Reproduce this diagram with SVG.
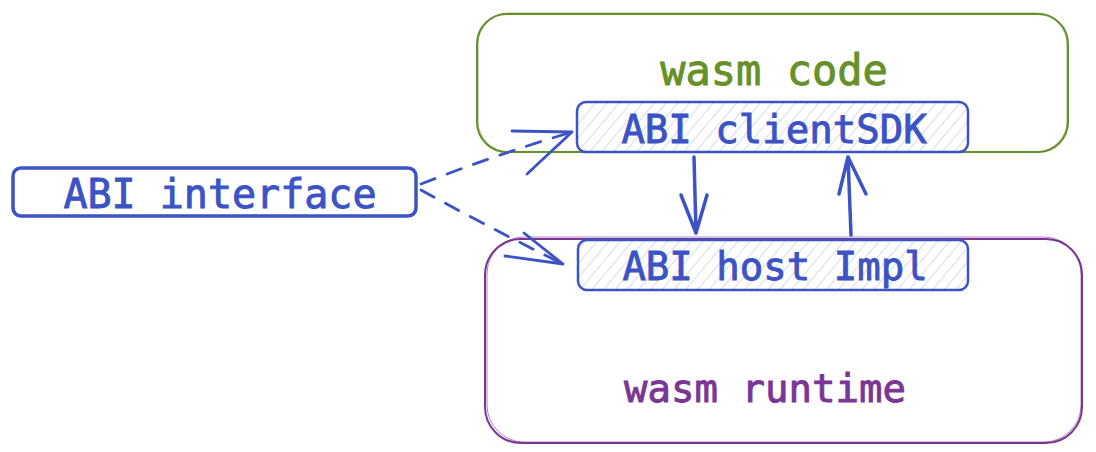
<svg xmlns="http://www.w3.org/2000/svg" width="1096" height="452" viewBox="0 0 1096 452">
  <defs>
    <pattern id="hatch" patternUnits="userSpaceOnUse" width="9" height="9" patternTransform="rotate(40)">
      <line x1="0" y1="0" x2="0" y2="9" stroke="#c4c9d0" stroke-width="1.3"/>
    </pattern>
    <style>
      .mono { font-family: "DejaVu Sans Mono", "Liberation Mono", monospace; text-anchor: middle; stroke-width: 0.9; }
      .blue { fill: #3b53c4; stroke: #3b53c4; }
      .bstroke { fill: none; stroke: #3b53c4; stroke-linecap: round; stroke-linejoin: round; }
      .green { fill: #66902a; stroke: #66902a; }
      .purple { fill: #7a3595; stroke: #7a3595; }
    </style>
  </defs>
  <rect width="1096" height="452" fill="#ffffff"/>

  <g id="wasm-code">
    <rect x="477" y="14" width="591" height="138" rx="30" fill="none" stroke="#66902a" stroke-width="2"/>
    <rect x="478" y="13" width="589" height="139" rx="31" fill="none" stroke="#66902a" stroke-width="1" opacity="0.6"/>
    <text class="mono green" x="774" y="85" font-size="42">wasm code</text>
  </g>

  <g id="wasm-runtime">
    <rect x="485" y="239" width="597" height="204" rx="36" fill="none" stroke="#7a3595" stroke-width="2"/>
    <rect x="487" y="237" width="594" height="205" rx="37" fill="none" stroke="#7a3595" stroke-width="1" opacity="0.6"/>
    <text class="mono purple" x="765" y="402" font-size="39">wasm runtime</text>
  </g>

  <g id="abi-clientsdk">
    <rect x="577" y="102" width="391" height="50" rx="9" fill="url(#hatch)" stroke="#3b53c4" stroke-width="2.5"/>
    <text class="mono blue" x="774" y="143" font-size="39">ABI clientSDK</text>
  </g>

  <g id="abi-host-impl">
    <rect x="578" y="240" width="390" height="50" rx="9" fill="url(#hatch)" stroke="#3b53c4" stroke-width="2.5"/>
    <text class="mono blue" x="775" y="280" font-size="39">ABI host Impl</text>
  </g>

  <g id="abi-interface">
    <rect x="13" y="168" width="403" height="48" rx="8" fill="#ffffff" stroke="#3b53c4" stroke-width="3.5"/>
    <text class="mono blue" x="220" y="208" font-size="40">ABI interface</text>
  </g>

  <g id="connectors" class="bstroke">
    <path d="M421,184 Q495,155 572,132" stroke-width="2.8" stroke-dasharray="15,13"/>
    <path d="M512,131 L572,132 M527,174 L572,132" stroke-width="2.8"/>
    <path d="M421,190 Q490,228 563,264" stroke-width="2.8" stroke-dasharray="15,13"/>
    <path d="M505,256 L563,264 M524,233 L563,264" stroke-width="2.8"/>
    <path d="M694,157 L696,233 M681,195 L696,233 L707,195" stroke-width="3.5"/>
    <path d="M851,235 L848,157 M839,194 L848,157 L866,194" stroke-width="3.5"/>
  </g>
</svg>
